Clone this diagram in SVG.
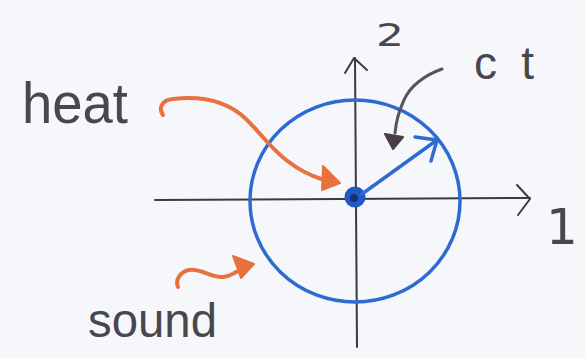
<svg xmlns="http://www.w3.org/2000/svg" width="585" height="358" viewBox="0 0 585 358">
<style>
.ink{fill:none;stroke:#3d3942;stroke-width:2;stroke-linecap:round;stroke-linejoin:round}
.gray{fill:none;stroke:#58545c;stroke-width:3;stroke-linecap:round;stroke-linejoin:round}
.blue{fill:none;stroke:#2d6bd3;stroke-width:3.5;stroke-linecap:round;stroke-linejoin:round}
.orange{fill:none;stroke:#e8713f;stroke-width:4;stroke-linecap:round;stroke-linejoin:round}
.lbl{font-family:"Liberation Sans","DejaVu Sans",sans-serif;fill:#4a4650}
.num{font-family:"DejaVu Sans","Liberation Sans",sans-serif;fill:#4a4650}
</style>
<rect width="585" height="358" fill="#f6f7fb"/>
<g id="axes">
  <path class="ink" d="M155,200 L530,198"/>
  <path class="ink" d="M517,185 L530,199 L518,215"/>
  <path class="ink" d="M355,58 L357,347"/>
  <path class="ink" d="M345,73 L354,58 L367,70"/>
</g>
<g id="circle">
  <ellipse class="blue" cx="355" cy="201" rx="105" ry="101"/>
  <circle cx="355" cy="197" r="10.5" fill="#2058c4"/>
  <circle cx="354" cy="198" r="4" fill="#1a2f70"/>
</g>
<g id="connectors">
  <path class="blue" d="M362,194 L437,140"/>
  <path class="blue" d="M415,137 L437,140 L431,161"/>
  <path class="gray" d="M442,69 C425,75 410,86 404,100 C398,113 396,122 395,133"/>
  <path d="M385,134 L403,137 L393,149 Z" fill="#4a3e44" stroke="#4a3e44" stroke-width="2" stroke-linejoin="round"/>
  <path class="orange" d="M163,115 C158,108 162,100 173,99 C200,96 226,100 246,119 C266,138 282,167 324,180"/>
  <path d="M323,166 L340,183 L322,190 Z" fill="#e8713f" stroke="#e8713f" stroke-width="2" stroke-linejoin="round"/>
  <path class="orange" d="M178,287 C175,280 180,272 189,270 C201,268 211,278 223,277 C231,276 235,272 240,270"/>
  <path d="M233,256 L254,264 L241,278 Z" fill="#e8713f" stroke="#e8713f" stroke-width="2" stroke-linejoin="round"/>
</g>
<g id="label-heat"><text class="lbl" x="22" y="123" font-size="58" textLength="106" lengthAdjust="spacingAndGlyphs">heat</text></g>
<g id="label-sound"><text class="lbl" x="88" y="337" font-size="48" textLength="129" lengthAdjust="spacingAndGlyphs">sound</text></g>
<g id="label-ct"><text class="lbl" x="474" y="79" font-size="46" textLength="60" lengthAdjust="spacing">ct</text></g>
<g id="label-2"><text class="num" x="376" y="46" font-size="32" textLength="28" lengthAdjust="spacingAndGlyphs">2</text></g>
<g id="label-1"><text class="num" x="546" y="244" font-size="50">1</text></g>
</svg>
